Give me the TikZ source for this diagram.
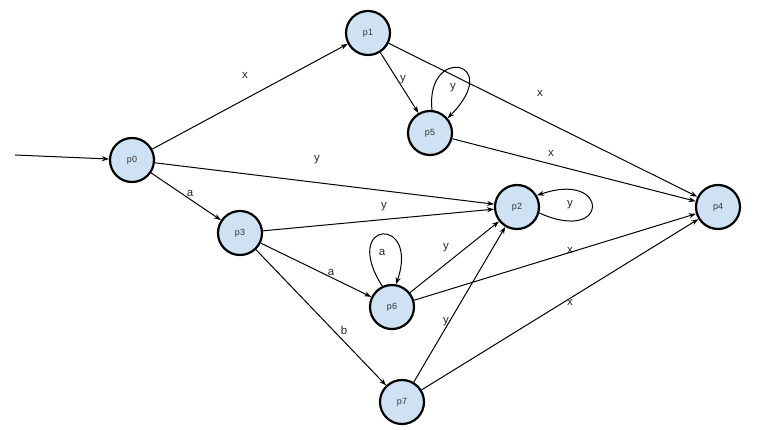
\documentclass[tikz,border=0pt]{standalone}
\usepackage{fontspec}
\setmainfont{Liberation Sans}
\usetikzlibrary{arrows.meta}
\begin{document}
\begin{tikzpicture}[x=1pt,y=-1pt,
  state/.style={circle,draw=black,line width=2.2pt,fill={rgb,255:red,207;green,226;blue,243},minimum size=44pt,inner sep=0pt,font=\fontsize{9}{10}\selectfont,text=black!80},
  edge/.style={-{Stealth[length=7pt,width=5pt]},line width=1pt},
  lab/.style={font=\fontsize{11.5}{12}\selectfont,text=black!85}]
\useasboundingbox (0,0) rectangle (766,430);
\node[state] (p0) at (132,160) {p0};
\node[state] (p1) at (368,33) {p1};
\node[state] (p5) at (430,133) {p5};
\node[state] (p2) at (517,207) {p2};
\node[state] (p4) at (718,207) {p4};
\node[state] (p3) at (240,233) {p3};
\node[state] (p6) at (392,307) {p6};
\node[state] (p7) at (402,402) {p7};
\coordinate (start) at (15,155);
\draw[edge] (start) -- (p0);
\draw[edge] (p0) -- (p1);
\draw[edge] (p0) -- (p2);
\draw[edge] (p0) -- (p3);
\draw[edge] (p1) -- (p5.120);
\draw[edge] (p1) -- (p4);
\draw[edge] (p5) -- (p4);
\draw[edge] (p3) -- (p2);
\draw[edge] (p3) -- (p6);
\draw[edge] (p3) -- (p7);
\draw[edge] (p6) -- (p2);
\draw[edge] (p6) -- (p4);
\draw[edge] (p7) -- (p2);
\draw[edge] (p7) -- (p4);
\draw[edge] (p5.85) .. controls (425,45) and (505,60) .. (p5.40);
\draw[edge] (p2.-15) .. controls (610,245) and (610,170) .. (p2.30);
\draw[edge] (p6.115) .. controls (340,220) and (420,215) .. (p6.80);
\node[lab] (l1) at (245,75) {x};
\node[lab] (l2) at (190,193) {a};
\node[lab] (l3) at (317,160) {y};
\node[lab] (l4) at (403,80) {y};
\node[lab] (l5) at (453,88) {y};
\node[lab] (l6) at (540,93) {x};
\node[lab] (l7) at (551,153) {x};
\node[lab] (l8) at (384,207) {y};
\node[lab] (l9) at (570,205) {y};
\node[lab] (l10) at (331,272) {a};
\node[lab] (l11) at (382,252) {a};
\node[lab] (l12) at (446,248) {y};
\node[lab] (l13) at (570,250) {x};
\node[lab] (l14) at (344,330) {b};
\node[lab] (l15) at (446,322) {y};
\node[lab] (l16) at (570,302) {x};
\end{tikzpicture}
\end{document}
